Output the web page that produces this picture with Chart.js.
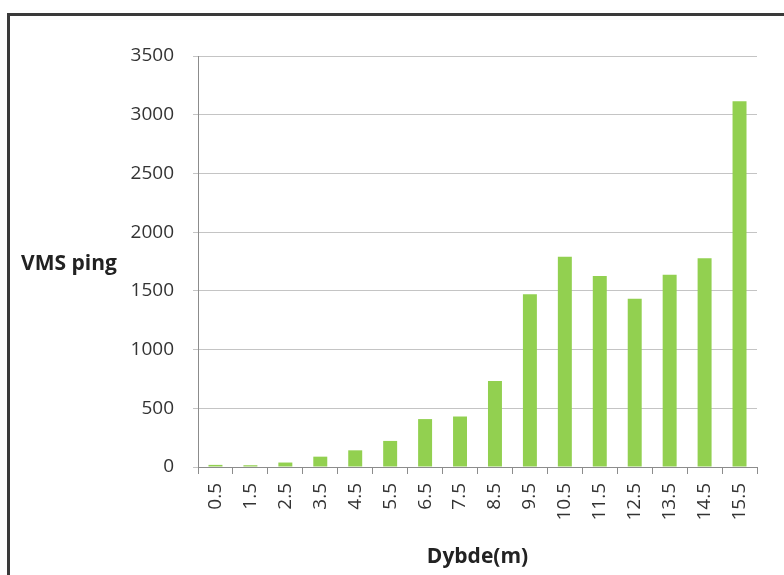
<!DOCTYPE html>
<html>
<head>
<meta charset="utf-8">
<script src="https://cdn.jsdelivr.net/npm/chart.js@4"></script>
<style>
  body { margin: 0; background: #fff; }
  #wrap { position: relative; width: 784px; height: 575px; overflow: hidden; }
  #frame { position: absolute; left: 7px; top: 13px; width: 900px; height: 700px;
           border-left: 3px solid #3a3a3a; border-top: 3px solid #3a3a3a; }
  #ytitle { position: absolute; left: 21px; top: 248px; font: bold 21px "Open Sans", sans-serif; color: #222; }
  canvas { position: absolute; left: 0; top: 0; }
</style>
</head>
<body>
<div id="wrap">
  <div id="frame"></div>
  <canvas id="chart" width="784" height="575"></canvas>
  <div id="ytitle">VMS ping</div>
</div>
<script>
// --- DATA ---
const depths = ["0.5", "1.5", "2.5", "3.5", "4.5", "5.5", "6.5", "7.5",
                "8.5", "9.5", "10.5", "11.5", "12.5", "13.5", "14.5", "15.5"];
const pings = [18, 15, 38, 88, 142, 222, 408, 430,
               732, 1472, 1790, 1627, 1432, 1637, 1778, 3115];
const yTicks = [0, 500, 1000, 1500, 2000, 2500, 3000, 3500];

const tickFont = { family: "Open Sans", size: 19 };

// --- CHART ---
new Chart(document.getElementById("chart"), {
  type: "bar",
  data: {
    labels: depths,
    datasets: [{
      data: pings,
      backgroundColor: "#92d050",
      categoryPercentage: 1,
      barPercentage: 0.4
    }]
  },
  options: {
    responsive: false,
    animation: false,
    layout: { padding: { left: 0, right: 27, top: 56, bottom: 0 } },
    plugins: { legend: { display: false }, tooltip: { enabled: false } },
    scales: {
      x: {
        grid: { drawOnChartArea: false, offset: true, tickLength: 7, color: "#8c8c8c" },
        border: { color: "#8c8c8c" },
        ticks: { minRotation: 90, maxRotation: 90, color: "#333", font: tickFont, padding: 9 },
        title: { display: true, text: "Dybde(m)", color: "#222",
                 font: { family: "Open Sans", size: 21, weight: "bold" }, padding: { top: 10, bottom: 5 } },
        afterFit: s => { s.height = 108; }
      },
      y: {
        min: 0, max: 3500,
        afterBuildTicks: s => { s.ticks = yTicks.map(v => ({ value: v })); },
        grid: { color: "#c4c4c4", tickLength: 5 },
        border: { color: "#8c8c8c" },
        ticks: { color: "#333", font: tickFont, padding: 19, callback: v => String(v) },
        afterFit: s => { s.width = 198; }
      }
    }
  }
});
</script>
</body>
</html>
